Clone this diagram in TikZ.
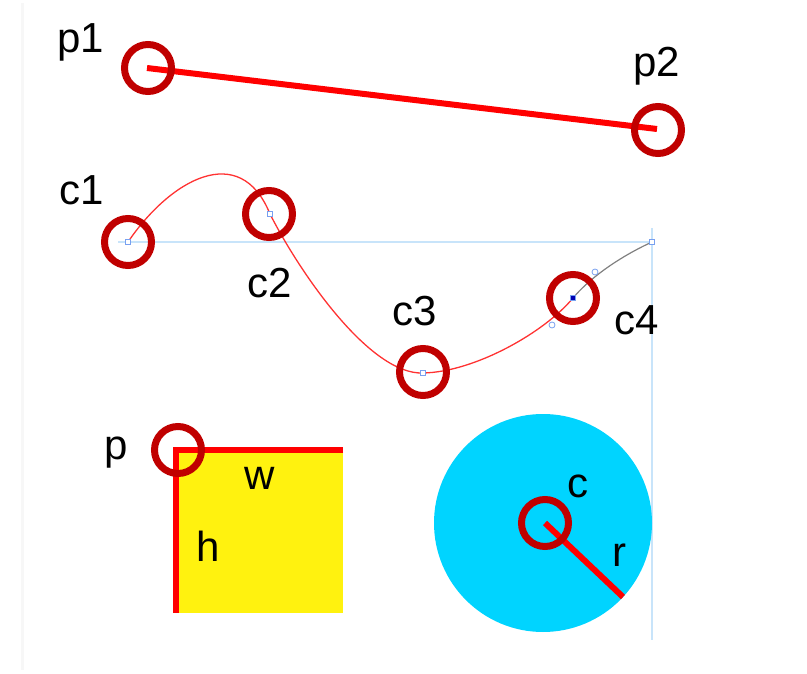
\documentclass[tikz,border=0pt]{standalone}
\usepackage{fontspec}
\setmainfont{Liberation Sans}
\definecolor{ringred}{RGB}{192,0,0}
\definecolor{linered}{RGB}{255,0,0}
\definecolor{curvered}{RGB}{255,50,50}
\definecolor{guideblue}{RGB}{200,228,250}
\definecolor{handleblue}{RGB}{120,160,240}
\definecolor{boxyellow}{RGB}{255,242,15}
\definecolor{discblue}{RGB}{0,212,255}
\begin{document}
\begin{tikzpicture}[x=1pt,y=-1pt,
  ring/.style={circle,draw=ringred,line width=7pt,minimum size=47pt,inner sep=0pt},
  lbl/.style={font=\fontsize{42}{50}\selectfont,inner sep=0pt,text=black},
  thick red/.style={draw=linered,line width=6pt},
  thin red/.style={draw=curvered,line width=1.3pt},
  guide/.style={draw=guideblue,line width=1.5pt},
  sqhandle/.style={draw=handleblue,fill=white,line width=0.8pt,minimum size=5.5pt,inner sep=0pt,rectangle},
  cihandle/.style={draw=handleblue,fill=white,line width=0.8pt,minimum size=6pt,inner sep=0pt,circle}]
\useasboundingbox (0,0) rectangle (807,674);
\draw[draw=black!3,line width=3pt] (22,3) -- (22,670);
% line p1 -- p2
\coordinate (P1) at (147,68);
\coordinate (P2) at (657,129);
\draw[thick red] (P1) -- (P2);
\node[ring] (r1) at (148,68) {};
\node[ring] (r2) at (658,130) {};
\node[lbl] (lp1) at (81,42) {p1};
\node[lbl] (lp2) at (657,66) {p2};
% guides
\coordinate (G0) at (118,242);
\coordinate (G1) at (652,242);
\coordinate (G2) at (652,228);
\coordinate (G3) at (652,640);
\draw[guide] (G0) -- (G1);
\draw[guide] (G2) -- (G3);
% curve
\coordinate (C1) at (128,242);
\coordinate (C2) at (270,214);
\coordinate (C3) at (423,373);
\coordinate (C4) at (573,298);
\coordinate (C5) at (652,242);
\draw[thin red] (C1) .. controls (170,180) and (240,140) .. (C2)
  .. controls (300,273) and (370,375) .. (C3)
  .. controls (475,372) and (545,332) .. (C4);
\draw[draw=gray,line width=1.2pt] (C4) .. controls (595,272) and (630,252) .. (C5);
\node[sqhandle] (h1) at (C1) {};
\node[sqhandle] (h2) at (C2) {};
\node[sqhandle] (h3) at (C3) {};
\node[sqhandle,fill=blue!70!black] (h4) at (C4) {};
\node[sqhandle] (h5) at (C5) {};
\node[cihandle] (k1) at (595,272) {};
\node[cihandle] (k2) at (552,325) {};
\node[ring] (rc1) at (128,242) {};
\node[ring] (rc2) at (269,214) {};
\node[ring] (rc3) at (423,372) {};
\node[ring] (rc4) at (573,298) {};
\node[lbl] (lc1) at (82,190) {c1};
\node[lbl] (lc2) at (270,283) {c2};
\node[lbl] (lc3) at (415,311) {c3};
\node[lbl] (lc4) at (637,320) {c4};
% rectangle
\coordinate (R0) at (176,450);
\coordinate (R1) at (343,450);
\coordinate (R2) at (176,613);
\fill[boxyellow] (R0) rectangle (343,613);
\draw[thick red] (R1) -- (R0) -- (R2);
\node[ring] (rp) at (178,450) {};
\node[lbl] (lpp) at (116,453) {p};
\node[lbl] (lw) at (260,478) {w};
\node[lbl] (lh) at (208,546) {h};
% disc
\coordinate (D0) at (545,523);
\coordinate (D1) at (623,597);
\fill[discblue] (543,523) circle[radius=109];
\draw[thick red] (D0) -- (D1);
\node[ring] (rd) at (D0) {};
\node[lbl] (lcc) at (578,486) {c};
\node[lbl] (lr) at (619,555) {r};
\end{tikzpicture}
\end{document}
